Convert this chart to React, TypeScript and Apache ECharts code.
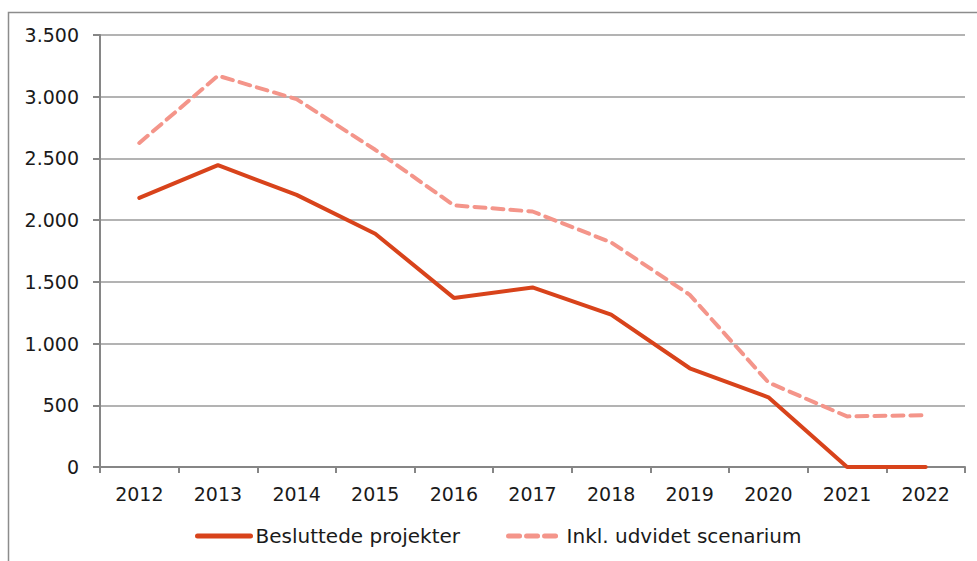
import React, { useEffect, useRef } from "react";
import * as echarts from "echarts";

const years = ["2012", "2013", "2014", "2015", "2016", "2017", "2018", "2019", "2020", "2021", "2022"];
const besluttede = [2180, 2445, 2205, 1890, 1370, 1455, 1235, 800, 565, 0, 0];
const udvidet = [2625, 3170, 2980, 2570, 2120, 2070, 1820, 1395, 685, 410, 420];
const seriesNames = ["Besluttede projekter", "Inkl. udvidet scenarium"];

const fmt = (v: number) => String(v).replace(/\B(?=(\d{3})+(?!\d))/g, ".");

export default function App() {
  const ref = useRef<HTMLDivElement>(null);
  useEffect(() => {
    if (!ref.current) return;
    const chart = echarts.init(ref.current, undefined, { renderer: "svg" });
    const font = "'DejaVu Sans', Verdana, sans-serif";
    chart.setOption({
      animation: false,
      backgroundColor: "#ffffff",
      textStyle: { fontFamily: font },
      graphic: [
        {
          type: "rect",
          shape: { x: 8.5, y: 12.5, width: 1000, height: 600 },
          style: { fill: "none", stroke: "#8c8c8c", lineWidth: 1.5 },
          silent: true,
        },
      ],
      grid: { left: 100, right: 12, top: 35, bottom: 94 },
      legend: {
        bottom: 10,
        left: 190,
        itemWidth: 53,
        itemHeight: 14,
        itemGap: 46,
        itemStyle: { opacity: 0 },
        lineStyle: { width: 5 },
        textStyle: { fontSize: 20, color: "#1a1a1a", fontFamily: font },
        data: seriesNames,
      },
      xAxis: {
        type: "category",
        data: years,
        boundaryGap: true,
        axisLine: { lineStyle: { color: "#868686", width: 2 } },
        axisTick: { show: true, length: 6, lineStyle: { color: "#868686", width: 2 } },
        axisLabel: { fontSize: 19, color: "#1a1a1a", margin: 17, fontFamily: font },
        splitLine: { show: false },
      },
      yAxis: {
        type: "value",
        min: 0,
        max: 3500,
        interval: 500,
        axisLine: { show: true, lineStyle: { color: "#868686", width: 2 } },
        axisTick: { show: true, length: 7, lineStyle: { color: "#868686", width: 2 } },
        axisLabel: { fontSize: 19, color: "#1a1a1a", margin: 21, fontFamily: font, formatter: (v: number) => fmt(v) },
        splitLine: { lineStyle: { color: "#9a9a9a", width: 1.5 } },
      },
      series: [
        {
          name: seriesNames[0],
          type: "line",
          data: besluttede,
          symbol: "none",
          itemStyle: { color: "#D8431B" },
          lineStyle: { color: "#D8431B", width: 4, cap: "round" },
        },
        {
          name: seriesNames[1],
          type: "line",
          data: udvidet,
          symbol: "none",
          itemStyle: { color: "#F4958A" },
          lineStyle: { color: "#F4958A", width: 4, type: [11, 7], cap: "round" },
        },
      ],
    });
    return () => chart.dispose();
  }, []);
  return <div ref={ref} style={{ position: "fixed", left: 0, top: 0, width: 977, height: 561 }} />;
}
